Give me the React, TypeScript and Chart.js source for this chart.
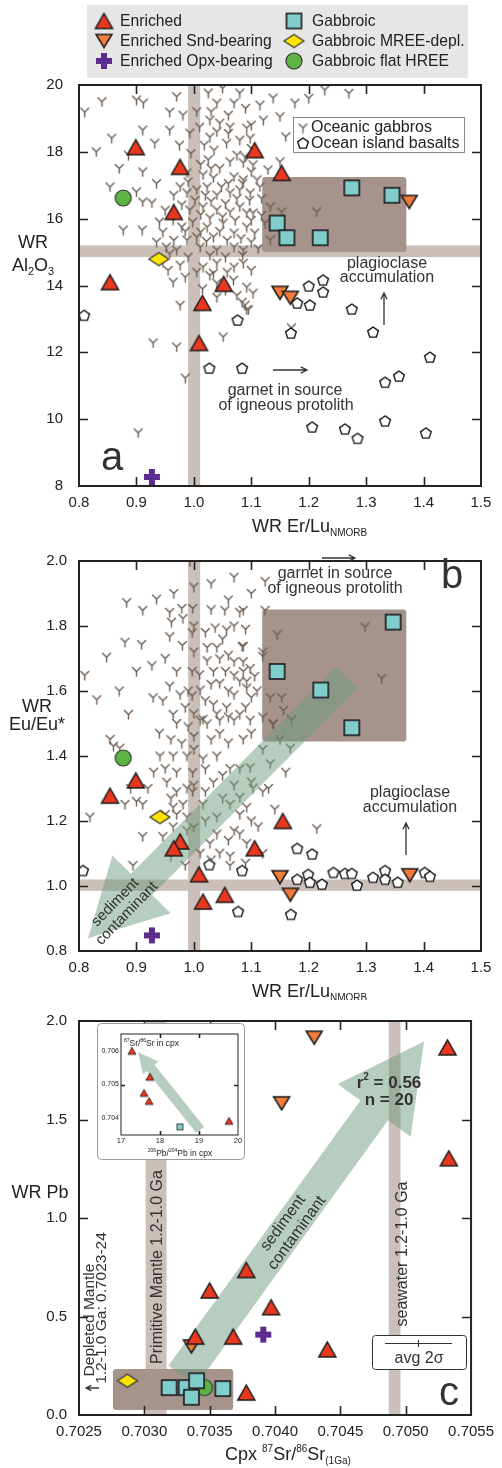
import React, { useEffect, useRef } from "react";
import { Chart, registerables } from "chart.js";
Chart.register(...registerables);

const FONT = '"Liberation Sans", Arial, Helvetica, sans-serif';
type P = [number, number];

// ---------------- Panel a : WR Al2O3 vs WR Er/Lu(NMORB) ----------------
const xTicksAB = [0.8, 0.9, 1.0, 1.1, 1.2, 1.3, 1.4, 1.5];
const xTickLabelsAB = ["0.8", "0.9", "1.0", "1.1", "1.2", "1.3", "1.4", "1.5"];
const yTicksA = [8, 10, 12, 14, 16, 18, 20];
const yTickLabelsA = ["8", "10", "12", "14", "16", "18", "20"];

const enrichedA: P[] = [[0.899, 18.14], [0.976, 17.55], [0.965, 16.2], [0.854, 14.1], [1.015, 13.48], [1.009, 12.28], [1.052, 14.05], [1.106, 18.05], [1.153, 17.37]];
const sndA: P[] = [[1.375, 16.5], [1.15, 13.78], [1.168, 13.63]];
const opxA: P[] = [[0.927, 8.27]];
const gabbroicA: P[] = [[1.275, 16.92], [1.345, 16.7], [1.145, 15.87], [1.162, 15.43], [1.22, 15.43]];
const mreeA: P[] = [[0.939, 14.79]];
const flatA: P[] = [[0.877, 16.62]];
const oibA: P[] = [[0.809, 13.11], [1.027, 11.53], [1.084, 11.53], [1.076, 12.97], [1.2, 13.99], [1.225, 14.17], [1.225, 13.81], [1.18, 13.48], [1.202, 13.42], [1.275, 13.3], [1.169, 12.58], [1.312, 12.61], [1.411, 11.86], [1.333, 11.11], [1.357, 11.29], [1.206, 9.77], [1.263, 9.71], [1.285, 9.43], [1.333, 9.95], [1.404, 9.59]];
const gabbrosA: P[] = [
  [0.81, 19.19], [0.9, 19.55], [0.912, 19.46], [0.958, 19.19], [0.981, 19.1], [0.911, 18.65], [0.958, 18.65], [0.857, 18.41], [0.932, 18.26], [0.886, 17.9], [0.911, 17.4], [0.993, 18.56], [1.01, 18.74], [1.025, 19.76], [1.05, 19.9], [1.08, 19.76], [1.04, 19.46], [1.07, 19.46], [1.028, 18.95], [1.045, 18.86], [1.063, 18.74], [1.028, 18.44], [1.057, 18.26], [1.08, 18.35], [1.025, 17.76], [1.063, 17.7], [1.086, 17.67], [0.988, 17.37], [1.016, 17.31], [1.034, 17.22], [1.07, 17.25], [0.854, 16.95], [0.9, 16.8], [0.911, 16.5], [0.927, 16.47], [0.976, 16.95], [0.988, 16.77], [1.005, 16.86], [1.023, 16.95], [1.04, 16.71], [1.063, 16.77], [1.08, 16.86], [0.979, 16.41], [0.993, 16.26], [1.016, 16.35], [1.04, 16.26], [1.063, 16.2], [1.08, 16.35], [1.092, 16.17], [0.877, 15.66], [0.91, 15.66], [0.946, 15.6], [0.964, 15.96], [0.979, 15.75], [0.988, 15.36], [1.005, 15.45], [1.023, 15.75], [1.034, 15.45], [1.051, 15.87], [1.07, 15.57], [1.092, 15.75], [0.952, 15.15], [0.97, 15.06], [1.011, 15.15], [1.04, 15.06], [1.07, 15.15], [0.946, 14.7], [0.976, 14.61], [1.016, 14.55], [1.04, 14.67], [1.07, 14.55],
  [1.138, 19.61], [1.176, 19.46], [1.228, 19.85], [1.121, 18.95], [1.092, 18.71], [1.098, 18.41], [1.089, 17.85], [1.103, 17.61], [1.129, 17.46], [1.15, 17.7], [1.086, 17.16], [1.11, 17.16], [1.098, 16.77], [1.115, 16.95], [1.103, 16.17], [1.133, 16.35], [1.153, 16.2], [1.214, 16.2], [1.106, 15.57], [1.124, 15.87], [1.133, 15.36], [1.086, 15.06], [1.086, 14.67],
  [0.964, 14.1], [0.985, 14.25], [0.976, 13.41], [0.929, 12.28], [0.97, 12.16], [0.985, 11.23], [0.903, 9.59], [1.04, 14.07], [1.04, 13.65], [1.069, 14.16], [1.084, 13.5], [1.092, 13.27], [1.051, 12.46], [1.034, 14.37], [1.092, 13.95], [1.103, 13.77], [1.089, 13.41], [1.095, 13.27], [1.17, 12.73],
  [0.995, 17.95], [1.012, 17.62], [1.045, 17.5], [1.075, 17.9], [1.1, 18.1], [1.035, 18.05], [0.975, 18.2], [1.018, 18.2], [1.002, 16.55], [1.03, 16.52], [1.055, 16.45], [1.075, 16.6], [1.097, 16.55], [1.012, 16.12], [1.028, 16.02], [1.05, 16.05], [1.072, 15.95], [1.1, 15.95], [0.998, 15.9], [0.985, 15.62], [1.012, 15.6], [1.045, 15.62], [1.058, 15.35], [1.082, 15.4], [1.1, 15.3], [1.022, 15.32], [0.965, 15.35], [0.958, 14.95], [0.99, 14.85], [1.028, 14.9], [1.055, 14.85], [1.085, 14.9], [1.1, 14.45], [1.058, 14.4], [1.028, 14.3], [1.005, 14.4], [0.955, 14.45], [1.015, 13.9], [1.055, 13.85], [1.075, 13.7], [1.02, 16.7], [1.048, 16.95], [1.085, 17.05], [1.1, 17.4], [1.06, 17.05], [1.118, 16.6], [1.118, 16.1], [1.112, 15.1], [0.99, 17.1], [0.965, 16.7], [0.95, 16.25], [0.94, 15.9], [0.935, 15.3], [1.03, 17.5], [1.005, 19.2], [1.03, 19.2], [1.06, 19.1], [1.09, 19.3], [1.115, 19.4], [1.06, 18.55], [1.04, 18.6], [1.1, 18.8], [0.97, 19.65], [1.15, 19.05], [1.19, 18.85], [1.16, 18.45], [1.2, 19.6], [1.27, 19.75], [0.935, 17.05], [0.87, 17.5], [0.84, 19.5], [0.83, 18.0],
];

// ---------------- Panel b : WR Eu/Eu* vs WR Er/Lu(NMORB) ----------------
const yTicksB = [0.8, 1.0, 1.2, 1.4, 1.6, 1.8, 2.0];
const yTickLabelsB = ["0.8", "1.0", "1.2", "1.4", "1.6", "1.8", "2.0"];

const enrichedB: P[] = [[0.899, 1.325], [0.854, 1.278], [0.976, 1.137], [0.965, 1.116], [1.009, 1.036], [1.016, 0.952], [1.054, 0.973], [1.155, 1.2], [1.106, 1.116]];
const sndB: P[] = [[1.15, 1.027], [1.168, 0.973], [1.376, 1.033]];
const opxB: P[] = [[0.927, 0.848]];
const gabbroicB: P[] = [[1.347, 1.812], [1.145, 1.66], [1.221, 1.603], [1.275, 1.487]];
const mreeB: P[] = [[0.941, 1.212]];
const flatB: P[] = [[0.877, 1.394]];
const oibB: P[] = [[0.807, 1.048], [1.027, 1.066], [1.084, 1.048], [1.077, 0.922], [1.18, 1.116], [1.206, 1.099], [1.18, 1.021], [1.199, 1.036], [1.202, 1.012], [1.223, 1.006], [1.243, 1.042], [1.263, 1.039], [1.275, 1.039], [1.284, 1.003], [1.312, 1.027], [1.333, 1.048], [1.333, 1.021], [1.355, 1.012], [1.402, 1.042], [1.411, 1.03], [1.169, 0.913]];
const gabbrosB: P[] = [
  [0.81, 1.648], [0.831, 1.573], [0.848, 1.704], [0.883, 1.872], [0.911, 1.848], [0.935, 1.883], [0.909, 1.743], [0.927, 1.678], [0.958, 1.842], [0.961, 1.812], [0.981, 1.823], [0.979, 1.854], [0.998, 1.854], [0.997, 1.779], [0.958, 1.767], [0.993, 1.997], [0.886, 1.528], [0.929, 1.579], [0.946, 1.57], [0.958, 1.615], [0.976, 1.588], [0.997, 1.585], [1.011, 1.603], [0.997, 1.66], [0.964, 1.528], [0.985, 1.549], [1.016, 1.513], [1.023, 1.734], [1.04, 1.734], [1.037, 1.794], [1.057, 1.788], [1.054, 1.848], [1.08, 1.842], [1.023, 1.693], [1.045, 1.699], [1.07, 1.69], [1.084, 1.737], [1.034, 1.66], [1.07, 1.648], [1.086, 1.66], [1.045, 1.624], [1.07, 1.588], [1.092, 1.609], [1.034, 1.558], [1.057, 1.549], [1.08, 1.528], [1.011, 1.51], [1.045, 1.51],
  [1.124, 1.937], [1.086, 1.848], [1.124, 1.848], [1.145, 1.773], [1.298, 1.797], [1.327, 1.639], [1.086, 1.737], [1.086, 1.69], [1.12, 1.707], [1.098, 1.669], [1.106, 1.645], [1.092, 1.63], [1.133, 1.579], [1.153, 1.579], [1.156, 1.54], [1.17, 1.513], [1.138, 1.498], [1.098, 1.51],
  [0.854, 1.451], [0.871, 1.424], [0.88, 1.251], [0.819, 1.212], [0.9, 1.26], [0.911, 1.251], [0.941, 1.4], [0.95, 1.361], [0.964, 1.4], [0.979, 1.439], [0.988, 1.4], [0.953, 1.319], [0.97, 1.29], [0.988, 1.301], [0.964, 1.242], [0.981, 1.251], [0.988, 1.212], [0.946, 1.152], [0.911, 1.152], [0.964, 1.182], [0.988, 1.17], [0.998, 1.29], [0.998, 1.349], [1.016, 1.251], [1.011, 1.101], [1.028, 1.131], [1.045, 1.101], [1.063, 1.092], [1.063, 1.063], [1.07, 1.17], [1.092, 1.131], [1.04, 1.212], [1.063, 1.251], [1.08, 1.272], [1.023, 1.499], [1.045, 1.469], [1.07, 1.51], [1.086, 1.451], [1.016, 1.391], [1.04, 1.4], [1.063, 1.361], [1.08, 1.361], [1.034, 1.319], [0.894, 1.063], [0.985, 1.063],
  [1.138, 1.499], [1.17, 1.51], [1.168, 1.424], [1.133, 1.376], [1.098, 1.364], [1.103, 1.301], [1.092, 1.242], [1.141, 1.236], [1.112, 1.182], [1.214, 1.176],
  [1.0, 1.72], [1.02, 1.78], [1.05, 1.76], [1.07, 1.8], [1.09, 1.79], [1.06, 1.71], [1.01, 1.65], [1.03, 1.62], [1.055, 1.66], [1.08, 1.63], [1.1, 1.58], [1.06, 1.6], [1.02, 1.57], [1.04, 1.53], [1.06, 1.52], [1.09, 1.55], [1.11, 1.6], [1.0, 1.53], [0.99, 1.49], [1.0, 1.46], [1.03, 1.45], [1.06, 1.44], [1.1, 1.47], [1.12, 1.42], [1.0, 1.42], [1.02, 1.36], [1.05, 1.34], [1.07, 1.31], [1.1, 1.32], [1.12, 1.29], [1.0, 1.31], [1.02, 1.29], [1.05, 1.27], [1.08, 1.22], [1.1, 1.2], [1.02, 1.2], [1.0, 1.18], [1.04, 1.16], [1.06, 1.14], [1.08, 1.16], [0.97, 1.22], [0.96, 1.27], [0.97, 1.35], [0.96, 1.45], [0.94, 1.47], [0.93, 1.35], [0.92, 1.3], [0.97, 1.5], [0.99, 1.6], [0.97, 1.66], [0.95, 1.7], [0.98, 1.74], [1.0, 1.8], [1.03, 1.85], [1.06, 1.88], [1.1, 1.9], [1.07, 1.95], [1.03, 1.93], [1.0, 1.92], [0.965, 1.9], [1.12, 1.72], [1.14, 1.67], [1.12, 1.52], [1.15, 1.45], [1.13, 1.3], [1.16, 1.35], [1.12, 1.1], [1.09, 1.07], [1.03, 1.08], [0.96, 1.09], [0.95, 1.22], [0.89, 1.3], [0.86, 1.43], [0.87, 1.6], [0.9, 1.66], [0.88, 1.75],
];

// ---------------- Panel c : WR Pb vs Cpx 87Sr/86Sr(1Ga) ----------------
const xTicksC = [0.7025, 0.703, 0.7035, 0.704, 0.7045, 0.705, 0.7055];
const xTickLabelsC = ["0.7025", "0.7030", "0.7035", "0.7040", "0.7045", "0.7050", "0.7055"];
const yTicksC = [0, 0.5, 1.0, 1.5, 2.0];
const yTickLabelsC = ["0.0", "0.5", "1.0", "1.5", "2.0"];

const enrichedC: P[] = [[0.70533, 1.303], [0.70378, 0.736], [0.7035, 0.632], [0.70397, 0.547], [0.70339, 0.398], [0.70368, 0.398], [0.7044, 0.333], [0.70378, 0.114], [0.70532, 1.866]];
const sndC: P[] = [[0.7043, 1.915], [0.70405, 1.582], [0.70336, 0.348]];
const opxC: P[] = [[0.70391, 0.408]];
const gabbroicC: P[] = [[0.70319, 0.139], [0.70332, 0.139], [0.7034, 0.174], [0.70336, 0.09], [0.7036, 0.134]];
const mreeC: P[] = [[0.70287, 0.174]];
const flatC: P[] = [[0.70346, 0.139]];

// ---------------- Inset : 87Sr/86Sr in cpx vs 206Pb/204Pb in cpx ----------------
const xTicksIn = [17, 18, 19, 20];
const xTickLabelsIn = ["17", "18", "19", "20"];
const yTicksIn = [0.704, 0.705, 0.706];
const yTickLabelsIn = ["0.704", "0.705", "0.706"];
const enrichedIn: P[] = [[17.28, 0.706], [17.74, 0.70523], [17.59, 0.70475], [17.72, 0.70451], [19.77, 0.70392]];
const gabbroicIn: P[] = [[18.51, 0.70374]];

// ---------------- styles ----------------
const RED = "#e8381f";
const ORANGE = "#f07b3a";
const CYAN = "#80cdcc";
const YELLOW = "#ffe500";
const GREEN = "#5db445";
const PURPLE = "#5c2d8f";
const GAB = "#6c5d52";
const BAND = "#cbbfba";
const BOX = "#a5938c";
const ARROW = "rgba(110,155,128,0.5)";
const TXT = "#333";

function makeCanvas(w: number, h: number, draw: (g: CanvasRenderingContext2D) => void) {
  const c = document.createElement("canvas");
  c.width = w;
  c.height = h;
  const g = c.getContext("2d")!;
  draw(g);
  return c;
}
function triUp(w: number, h: number, fill: string, lw = 1.5) {
  const m = 2;
  return makeCanvas(w + 2 * m, h + 2 * m, (g) => {
    g.beginPath();
    g.moveTo(m + w / 2, m);
    g.lineTo(m + w, m + h);
    g.lineTo(m, m + h);
    g.closePath();
    g.fillStyle = fill;
    g.fill();
    g.lineWidth = lw;
    g.strokeStyle = "#1a1a1a";
    g.stroke();
  });
}
function triDown(w: number, h: number, fill: string, lw = 1.5) {
  const m = 2;
  return makeCanvas(w + 2 * m, h + 2 * m, (g) => {
    g.beginPath();
    g.moveTo(m, m);
    g.lineTo(m + w, m);
    g.lineTo(m + w / 2, m + h);
    g.closePath();
    g.fillStyle = fill;
    g.fill();
    g.lineWidth = lw;
    g.strokeStyle = "#1a1a1a";
    g.stroke();
  });
}
function square(s: number, fill: string, lw = 1.6) {
  const m = 2;
  return makeCanvas(s + 2 * m, s + 2 * m, (g) => {
    g.fillStyle = fill;
    g.fillRect(m, m, s, s);
    g.lineWidth = lw;
    g.strokeStyle = "#1a1a1a";
    g.strokeRect(m, m, s, s);
  });
}
function diamond(w: number, h: number) {
  const m = 2;
  return makeCanvas(w + 2 * m, h + 2 * m, (g) => {
    g.beginPath();
    g.moveTo(m, m + h / 2);
    g.lineTo(m + w / 2, m);
    g.lineTo(m + w, m + h / 2);
    g.lineTo(m + w / 2, m + h);
    g.closePath();
    g.fillStyle = YELLOW;
    g.fill();
    g.lineWidth = 1.2;
    g.strokeStyle = "#333";
    g.stroke();
  });
}
function circle(d: number) {
  const m = 2;
  return makeCanvas(d + 2 * m, d + 2 * m, (g) => {
    g.beginPath();
    g.arc(m + d / 2, m + d / 2, d / 2, 0, Math.PI * 2);
    g.fillStyle = GREEN;
    g.fill();
    g.lineWidth = 1.2;
    g.strokeStyle = "#333";
    g.stroke();
  });
}
function cross(s: number, arm: number) {
  return makeCanvas(s + 2, s + 2, (g) => {
    const c = (s + 2) / 2;
    g.fillStyle = PURPLE;
    g.fillRect(c - arm / 2, 1, arm, s);
    g.fillRect(1, c - arm / 2, s, arm);
  });
}
function pentagon(r: number) {
  const S = Math.ceil(2 * r + 4);
  return makeCanvas(S, S, (g) => {
    const cx = S / 2, cy = S / 2 + 0.6;
    g.beginPath();
    for (let i = 0; i < 5; i++) {
      const a = -Math.PI / 2 + (i * 2 * Math.PI) / 5;
      const x = cx + r * Math.cos(a), y = cy + r * Math.sin(a);
      if (i === 0) g.moveTo(x, y);
      else g.lineTo(x, y);
    }
    g.closePath();
    g.fillStyle = "#fff";
    g.fill();
    g.lineWidth = 1.4;
    g.strokeStyle = "#111";
    g.stroke();
  });
}
function ymark(s: number) {
  return makeCanvas(s + 2, s + 2, (g) => {
    const c = (s + 2) / 2;
    g.strokeStyle = GAB;
    g.lineWidth = 1.4;
    g.lineCap = "round";
    g.beginPath();
    g.moveTo(1.5, 1.5);
    g.quadraticCurveTo(c - 1, c - 1, c, c);
    g.quadraticCurveTo(c + 1, c - 1, s + 0.5, 1.5);
    g.moveTo(c, c);
    g.lineTo(c, s + 1);
    g.stroke();
  });
}

function makeMarkers() {
  return {
    tri: triUp(17, 15, RED),
    inv: triDown(16, 13, ORANGE),
    sq: square(15, CYAN),
    dia: diamond(20, 13),
    cir: circle(16),
    crs: cross(16, 6),
    pent: pentagon(5.6),
    y: ymark(9),
    triS: triUp(8, 7, RED, 0.8),
    sqS: square(6, CYAN, 0.8),
  };
}

// ---------------- drawing helpers ----------------
type Seg = { t: string; s: number; dy?: number; b?: boolean };
function drawRich(ctx: CanvasRenderingContext2D, segs: Seg[], x: number, y: number, align: "left" | "center" = "left") {
  let w = 0;
  for (const g of segs) {
    ctx.font = `${g.b ? "bold " : ""}${g.s}px ${FONT}`;
    w += ctx.measureText(g.t).width;
  }
  let cx = align === "center" ? x - w / 2 : x;
  ctx.textAlign = "left";
  ctx.textBaseline = "alphabetic";
  for (const g of segs) {
    ctx.font = `${g.b ? "bold " : ""}${g.s}px ${FONT}`;
    ctx.fillText(g.t, cx, y + (g.dy || 0));
    cx += ctx.measureText(g.t).width;
  }
}
function text(ctx: CanvasRenderingContext2D, t: string, x: number, y: number, size: number, align: CanvasTextAlign = "center", color = TXT, bold = false) {
  ctx.font = `${bold ? "bold " : ""}${size}px ${FONT}`;
  ctx.fillStyle = color;
  ctx.textAlign = align;
  ctx.textBaseline = "alphabetic";
  ctx.fillText(t, x, y);
}
function rotText(ctx: CanvasRenderingContext2D, lines: string[], cx: number, cy: number, angleDeg: number, size: number, gap: number, color = TXT) {
  ctx.save();
  ctx.translate(cx, cy);
  ctx.rotate((angleDeg * Math.PI) / 180);
  ctx.font = `${size}px ${FONT}`;
  ctx.fillStyle = color;
  ctx.textAlign = "center";
  ctx.textBaseline = "middle";
  const n = lines.length;
  lines.forEach((l, i) => ctx.fillText(l, 0, (i - (n - 1) / 2) * gap));
  ctx.restore();
}
function lineArrow(ctx: CanvasRenderingContext2D, x1: number, y1: number, x2: number, y2: number, head = 7) {
  ctx.save();
  ctx.strokeStyle = "#333";
  ctx.lineWidth = 1.3;
  ctx.beginPath();
  ctx.moveTo(x1, y1);
  ctx.lineTo(x2, y2);
  const a = Math.atan2(y2 - y1, x2 - x1);
  ctx.moveTo(x2 - head * Math.cos(a - 0.45), y2 - head * Math.sin(a - 0.45));
  ctx.lineTo(x2, y2);
  ctx.lineTo(x2 - head * Math.cos(a + 0.45), y2 - head * Math.sin(a + 0.45));
  ctx.stroke();
  ctx.restore();
}
function fatArrow(ctx: CanvasRenderingContext2D, x1: number, y1: number, x2: number, y2: number, sh: number, hl: number, hh: number, color: string) {
  const dx = x2 - x1, dy = y2 - y1;
  const L = Math.hypot(dx, dy);
  const ux = dx / L, uy = dy / L;
  const nx = -uy, ny = ux;
  const bx = x2 - ux * hl, by = y2 - uy * hl;
  ctx.save();
  ctx.fillStyle = color;
  ctx.beginPath();
  ctx.moveTo(x1 + nx * sh, y1 + ny * sh);
  ctx.lineTo(bx + nx * sh, by + ny * sh);
  ctx.lineTo(bx + nx * hh, by + ny * hh);
  ctx.lineTo(x2, y2);
  ctx.lineTo(bx - nx * hh, by - ny * hh);
  ctx.lineTo(bx - nx * sh, by - ny * sh);
  ctx.lineTo(x1 - nx * sh, y1 - ny * sh);
  ctx.closePath();
  ctx.fill();
  ctx.restore();
}
function roundRect(ctx: CanvasRenderingContext2D, x: number, y: number, w: number, h: number, r: number) {
  ctx.beginPath();
  ctx.moveTo(x + r, y);
  ctx.lineTo(x + w - r, y);
  ctx.quadraticCurveTo(x + w, y, x + w, y + r);
  ctx.lineTo(x + w, y + h - r);
  ctx.quadraticCurveTo(x + w, y + h, x + w - r, y + h);
  ctx.lineTo(x + r, y + h);
  ctx.quadraticCurveTo(x, y + h, x, y + h - r);
  ctx.lineTo(x, y + r);
  ctx.quadraticCurveTo(x, y, x + r, y);
  ctx.closePath();
}
const X = (c: any, v: number) => c.scales.x.getPixelForValue(v);
const Y = (c: any, v: number) => c.scales.y.getPixelForValue(v);

function clipArea(c: any) {
  const a = c.chartArea;
  c.ctx.beginPath();
  c.ctx.rect(a.left, a.top, a.right - a.left, a.bottom - a.top);
  c.ctx.clip();
}
function vBand(c: any, x0: number, x1: number, color: string) {
  const a = c.chartArea;
  c.ctx.fillStyle = color;
  c.ctx.fillRect(X(c, x0), a.top, X(c, x1) - X(c, x0), a.bottom - a.top);
}
function hBand(c: any, y0: number, y1: number, color: string) {
  const a = c.chartArea;
  c.ctx.fillStyle = color;
  c.ctx.fillRect(a.left, Y(c, y1), a.right - a.left, Y(c, y0) - Y(c, y1));
}
function dataBox(c: any, x0: number, x1: number, y0: number, y1: number, color: string) {
  const ctx = c.ctx;
  ctx.fillStyle = color;
  roundRect(ctx, X(c, x0), Y(c, y1), X(c, x1) - X(c, x0), Y(c, y0) - Y(c, y1), 3);
  ctx.fill();
}
function frameTicks(c: any, len: number, lw = 2) {
  const ctx = c.ctx;
  const a = c.chartArea;
  ctx.save();
  ctx.strokeStyle = "#222";
  ctx.lineWidth = 1.6;
  ctx.beginPath();
  const xt = c.scales.x.ticks;
  for (let i = 1; i < xt.length - 1; i++) {
    const x = Math.round(X(c, xt[i].value)) + 0.5;
    ctx.moveTo(x, a.bottom);
    ctx.lineTo(x, a.bottom - len);
    ctx.moveTo(x, a.top);
    ctx.lineTo(x, a.top + len);
  }
  const yt = c.scales.y.ticks;
  for (let i = 1; i < yt.length - 1; i++) {
    const y = Math.round(Y(c, yt[i].value)) + 0.5;
    ctx.moveTo(a.left, y);
    ctx.lineTo(a.left + len, y);
    ctx.moveTo(a.right, y);
    ctx.lineTo(a.right - len, y);
  }
  ctx.stroke();
  ctx.lineWidth = lw;
  ctx.strokeRect(a.left, a.top, a.right - a.left, a.bottom - a.top);
  ctx.restore();
}

function ds(data: P[], img: HTMLCanvasElement) {
  return {
    data: data.map(([x, y]) => ({ x, y })),
    pointStyle: img,
    pointRadius: 5,
    pointHoverRadius: 5,
    showLine: false,
  };
}
function axis(min: number, max: number, ticks: number[], labels: string[], size: number, pad: number, fontSize: number, horizontal: boolean) {
  return {
    type: "linear",
    min,
    max,
    afterBuildTicks: (s: any) => {
      s.ticks = ticks.map((v) => ({ value: v }));
    },
    afterFit: (s: any) => {
      if (horizontal) s.height = size;
      else s.width = size;
    },
    grid: { display: false, drawTicks: false },
    border: { display: false },
    ticks: {
      autoSkip: false,
      maxRotation: 0,
      padding: pad,
      color: "#222",
      font: { family: FONT, size: fontSize },
      callback: (_v: any, i: number) => labels[i],
    },
  };
}
function baseOptions(padding: any, xs: any, ys: any) {
  return {
    responsive: false,
    animation: false,
    events: [],
    layout: { padding, autoPadding: false },
    plugins: { legend: { display: false }, tooltip: { enabled: false } },
    scales: { x: xs, y: ys },
  };
}

export default function App() {
  const refA = useRef<HTMLCanvasElement>(null);
  const refB = useRef<HTMLCanvasElement>(null);
  const refC = useRef<HTMLCanvasElement>(null);
  const refI = useRef<HTMLCanvasElement>(null);

  useEffect(() => {
    const M = makeMarkers();
    const charts: Chart[] = [];

    // ---------------- Panel a ----------------
    const plugA = {
      id: "plugA",
      beforeDatasetsDraw(c: any) {
        const ctx = c.ctx;
        ctx.save();
        clipArea(c);
        vBand(c, 0.99, 1.011, BAND);
        hBand(c, 14.85, 15.2, BAND);
        dataBox(c, 1.119, 1.37, 15.0, 17.25, BOX);
        ctx.restore();
      },
      afterDraw(c: any) {
        const ctx = c.ctx;
        frameTicks(c, 9);
        ctx.save();
        ctx.fillStyle = "#e6e6e6";
        ctx.fillRect(87, 5, 381, 73);
        const rows = [21, 41, 61];
        const L1 = [[M.tri, "Enriched"], [M.inv, "Enriched Snd-bearing"], [M.crs, "Enriched Opx-bearing"]] as any[];
        const L2 = [[M.sq, "Gabbroic"], [M.dia, "Gabbroic MREE-depl."], [M.cir, "Gabbroic flat HREE"]] as any[];
        L1.forEach(([img, t], i) => {
          ctx.drawImage(img, 104 - img.width / 2, rows[i] - img.height / 2);
          ctx.font = `15.7px ${FONT}`;
          ctx.fillStyle = "#222";
          ctx.textAlign = "left";
          ctx.textBaseline = "middle";
          ctx.fillText(t, 120, rows[i] + 1);
        });
        L2.forEach(([img, t], i) => {
          ctx.drawImage(img, 294 - img.width / 2, rows[i] - img.height / 2);
          ctx.font = `15.7px ${FONT}`;
          ctx.fillStyle = "#222";
          ctx.textAlign = "left";
          ctx.textBaseline = "middle";
          ctx.fillText(t, 312, rows[i] + 1);
        });
        ctx.fillStyle = "#fff";
        ctx.fillRect(293, 117, 171, 35);
        ctx.strokeStyle = "#888";
        ctx.lineWidth = 1;
        ctx.strokeRect(293.5, 117.5, 171, 35);
        ctx.drawImage(M.y, 303 - M.y.width / 2, 128 - M.y.height / 2);
        ctx.drawImage(M.pent, 303 - M.pent.width / 2, 143 - M.pent.height / 2);
        ctx.font = `16px ${FONT}`;
        ctx.fillStyle = "#222";
        ctx.textAlign = "left";
        ctx.textBaseline = "middle";
        ctx.fillText("Oceanic gabbros", 311, 128);
        ctx.fillText("Ocean island basalts", 311, 144);
        text(ctx, "plagioclase", 387, 268, 16);
        text(ctx, "accumulation", 387, 282, 16);
        lineArrow(ctx, 384, 325, 384, 293);
        lineArrow(ctx, 273, 370, 307, 370);
        text(ctx, "garnet in source", 285, 395, 16);
        text(ctx, "of igneous protolith", 286, 410, 16);
        text(ctx, "a", 112, 470, 40, "center", "#333");
        ctx.fillStyle = "#222";
        drawRich(ctx, [{ t: "WR", s: 18 }], 33, 248, "center");
        drawRich(ctx, [{ t: "Al", s: 18 }, { t: "2", s: 11, dy: 4 }, { t: "O", s: 18 }, { t: "3", s: 11, dy: 4 }], 33, 271, "center");
        drawRich(ctx, [{ t: "WR Er/Lu", s: 18 }, { t: "NMORB", s: 10, dy: 4 }], 252, 532, "left");
        ctx.restore();
      },
    };
    const cfgA: any = {
      type: "scatter",
      data: {
        datasets: [ds(enrichedA, M.tri), ds(sndA, M.inv), ds(opxA, M.crs), ds(mreeA, M.dia), ds(gabbroicA, M.sq), ds(flatA, M.cir), ds(oibA, M.pent), ds(gabbrosA, M.y)],
      },
      options: baseOptions({ top: 85, right: 21, left: 0, bottom: 0 }, axis(0.8, 1.5, xTicksAB, xTickLabelsAB, 54, 8, 15, true), axis(8, 20, yTicksA, yTickLabelsA, 79, 16, 15, false)),
      plugins: [plugA],
    };
    charts.push(new Chart(refA.current!, cfgA));

    // ---------------- Panel b ----------------
    const plugB = {
      id: "plugB",
      beforeDatasetsDraw(c: any) {
        const ctx = c.ctx;
        ctx.save();
        clipArea(c);
        vBand(c, 0.99, 1.011, BAND);
        hBand(c, 0.985, 1.02, BAND);
        dataBox(c, 1.119, 1.37, 1.445, 1.851, BOX);
        ctx.restore();
      },
      afterDatasetDraw(c: any, args: any) {
        if (args.index !== 6) return;
        const ctx = c.ctx;
        ctx.save();
        clipArea(c);
        fatArrow(ctx, X(c, 1.2667), Y(c, 1.642), X(c, 0.8157), Y(c, 0.839), 15, 76, 41, ARROW);
        rotText(ctx, ["sediment", "contaminant"], 121, 908 - 540, -46, 15, 16);
        ctx.restore();
      },
      afterDraw(c: any) {
        const ctx = c.ctx;
        frameTicks(c, 9);
        ctx.save();
        text(ctx, "garnet in source", 335, 578 - 540, 16);
        text(ctx, "of igneous protolith", 335, 593 - 540, 16);
        lineArrow(ctx, 322, 558 - 540, 355, 558 - 540);
        text(ctx, "plagioclase", 410, 797 - 540, 16);
        text(ctx, "accumulation", 410, 812 - 540, 16);
        lineArrow(ctx, 406, 855 - 540, 406, 823 - 540);
        text(ctx, "b", 452, 588 - 540, 40, "center", "#333");
        ctx.fillStyle = "#222";
        drawRich(ctx, [{ t: "WR", s: 18 }], 37, 712 - 540, "center");
        drawRich(ctx, [{ t: "Eu/Eu*", s: 18 }], 37, 730 - 540, "center");
        drawRich(ctx, [{ t: "WR Er/Lu", s: 18 }, { t: "NMORB", s: 10, dy: 4 }], 252, 997 - 540, "left");
        ctx.restore();
      },
    };
    const cfgB: any = {
      type: "scatter",
      data: {
        datasets: [ds(enrichedB, M.tri), ds(sndB, M.inv), ds(opxB, M.crs), ds(mreeB, M.dia), ds(gabbroicB, M.sq), ds(flatB, M.cir), ds(oibB, M.pent), ds(gabbrosB, M.y)],
      },
      options: baseOptions({ top: 9, right: 21, left: 0, bottom: 0 }, axis(0.8, 1.5, xTicksAB, xTickLabelsAB, 49, 8, 15, true), axis(0.8, 2.0, yTicksB, yTickLabelsB, 79, 12, 15, false)),
      plugins: [plugB],
    };
    charts.push(new Chart(refB.current!, cfgB));

    // ---------------- Panel c ----------------
    const plugC = {
      id: "plugC",
      beforeDatasetsDraw(c: any) {
        const ctx = c.ctx;
        ctx.save();
        clipArea(c);
        vBand(c, 0.70301, 0.70317, BAND);
        vBand(c, 0.70487, 0.70496, BAND);
        dataBox(c, 0.70276, 0.70368, 0.025, 0.234, BOX);
        fatArrow(ctx, X(c, 0.70329), Y(c, 0.199), X(c, 0.70514), Y(c, 1.896), 17, 85, 45, ARROW);
        rotText(ctx, ["sediment", "contaminant"], 290, 1228 - 1000, -54, 16, 17);
        rotText(ctx, ["Primitive Mantle 1.2-1.0 Ga"], 158, 1267 - 1000, -90, 16, 0);
        rotText(ctx, ["seawater 1.2-1.0 Ga"], 403, 1254 - 1000, -90, 16, 0);
        rotText(ctx, ["Depleted Mantle"], 90, 1320 - 1000, -90, 15.5, 0);
        rotText(ctx, ["1.2-1.0 Ga: 0.7023-24"], 102, 1308 - 1000, -90, 15.5, 0);
        ctx.restore();
      },
      afterDraw(c: any) {
        const ctx = c.ctx;
        frameTicks(c, 9);
        ctx.save();
        lineArrow(ctx, 99, 1388 - 1000, 86, 1388 - 1000, 6);
        ctx.fillStyle = TXT;
        drawRich(ctx, [{ t: "r", s: 17, b: true }, { t: "2", s: 10, dy: -8, b: true }, { t: " = 0.56", s: 17, b: true }], 389, 1088 - 1000, "center");
        drawRich(ctx, [{ t: "n = 20", s: 17, b: true }], 389, 1105 - 1000, "center");
        ctx.fillStyle = "#fff";
        roundRect(ctx, 372.5, 1335.5 - 1000, 94, 34, 3);
        ctx.fill();
        ctx.strokeStyle = "#333";
        ctx.lineWidth = 1;
        ctx.stroke();
        ctx.beginPath();
        ctx.moveTo(385, 1343.5 - 1000);
        ctx.lineTo(452, 1343.5 - 1000);
        ctx.moveTo(418.5, 1340 - 1000);
        ctx.lineTo(418.5, 1347 - 1000);
        ctx.stroke();
        text(ctx, "avg 2\u03c3", 419, 1363 - 1000, 16);
        text(ctx, "c", 449, 1405 - 1000, 40, "center", "#333");
        ctx.fillStyle = "#222";
        drawRich(ctx, [{ t: "WR Pb", s: 18 }], 40, 1198 - 1000, "center");
        drawRich(ctx, [{ t: "Cpx ", s: 18 }, { t: "87", s: 10, dy: -8 }, { t: "Sr/", s: 18 }, { t: "86", s: 10, dy: -8 }, { t: "Sr", s: 18 }, { t: "(1Ga)", s: 10, dy: 4 }], 225, 1460 - 1000, "left");
        ctx.restore();
      },
    };
    const cfgC: any = {
      type: "scatter",
      data: {
        datasets: [ds(enrichedC, M.tri), ds(sndC, M.inv), ds(opxC, M.crs), ds(mreeC, M.dia), ds(gabbroicC, M.sq), ds(flatC, M.cir)],
      },
      options: baseOptions({ top: 13, right: 20, left: 0, bottom: 0 }, axis(0.7025, 0.7055, xTicksC, xTickLabelsC, 53, 8, 15, true), axis(0, 2.0, yTicksC, yTickLabelsC, 79, 12, 15, false)),
      plugins: [plugC],
    };
    charts.push(new Chart(refC.current!, cfgC));

    // ---------------- Inset ----------------
    const plugI = {
      id: "plugI",
      beforeDraw(c: any) {
        const ctx = c.ctx;
        ctx.save();
        ctx.fillStyle = "#fff";
        roundRect(ctx, 0.5, 0.5, c.width - 1, c.height - 1, 4);
        ctx.fill();
        ctx.strokeStyle = "#999";
        ctx.lineWidth = 1;
        ctx.stroke();
        ctx.restore();
      },
      beforeDatasetsDraw(c: any) {
        const ctx = c.ctx;
        ctx.save();
        clipArea(c);
        fatArrow(ctx, X(c, 19.03), Y(c, 0.70365), X(c, 17.44), Y(c, 0.70596), 5, 20, 10, ARROW);
        ctx.restore();
      },
      afterDraw(c: any) {
        const ctx = c.ctx;
        frameTicks(c, 4, 1);
        ctx.save();
        ctx.fillStyle = "#222";
        drawRich(ctx, [{ t: "87", s: 5, dy: -4 }, { t: "Sr/", s: 8.5 }, { t: "86", s: 5, dy: -4 }, { t: "Sr in cpx", s: 8.5 }], 27, 23, "left");
        drawRich(ctx, [{ t: "206", s: 5, dy: -4 }, { t: "Pb/", s: 8.5 }, { t: "204", s: 5, dy: -4 }, { t: "Pb in cpx", s: 8.5 }], 83, 133, "center");
        ctx.restore();
      },
    };
    const cfgI: any = {
      type: "scatter",
      data: { datasets: [ds(enrichedIn, M.triS), ds(gabbroicIn, M.sqS)] },
      options: baseOptions({ top: 11, right: 7, left: 0, bottom: 0 }, axis(17, 20, xTicksIn, xTickLabelsIn, 25, 1, 7.5, true), axis(0.7035, 0.7065, yTicksIn, yTickLabelsIn, 24, 2, 7, false)),
      plugins: [plugI],
    };
    charts.push(new Chart(refI.current!, cfgI));

    return () => charts.forEach((c) => c.destroy());
  }, []);

  const abs = (left: number, top: number, w: number, h: number): React.CSSProperties => ({ position: "absolute", left, top, width: w, height: h });
  return (
    <div style={{ position: "absolute", left: 0, top: 0, width: 502, height: 1468, background: "#fff", overflow: "hidden" }}>
      <canvas ref={refA} width={502} height={540} style={abs(0, 0, 502, 540)} />
      <canvas ref={refB} width={502} height={460} style={abs(0, 540, 502, 460)} />
      <canvas ref={refC} width={502} height={468} style={abs(0, 1000, 502, 468)} />
      <canvas ref={refI} width={148} height={137} style={abs(97, 1023, 148, 137)} />
    </div>
  );
}
